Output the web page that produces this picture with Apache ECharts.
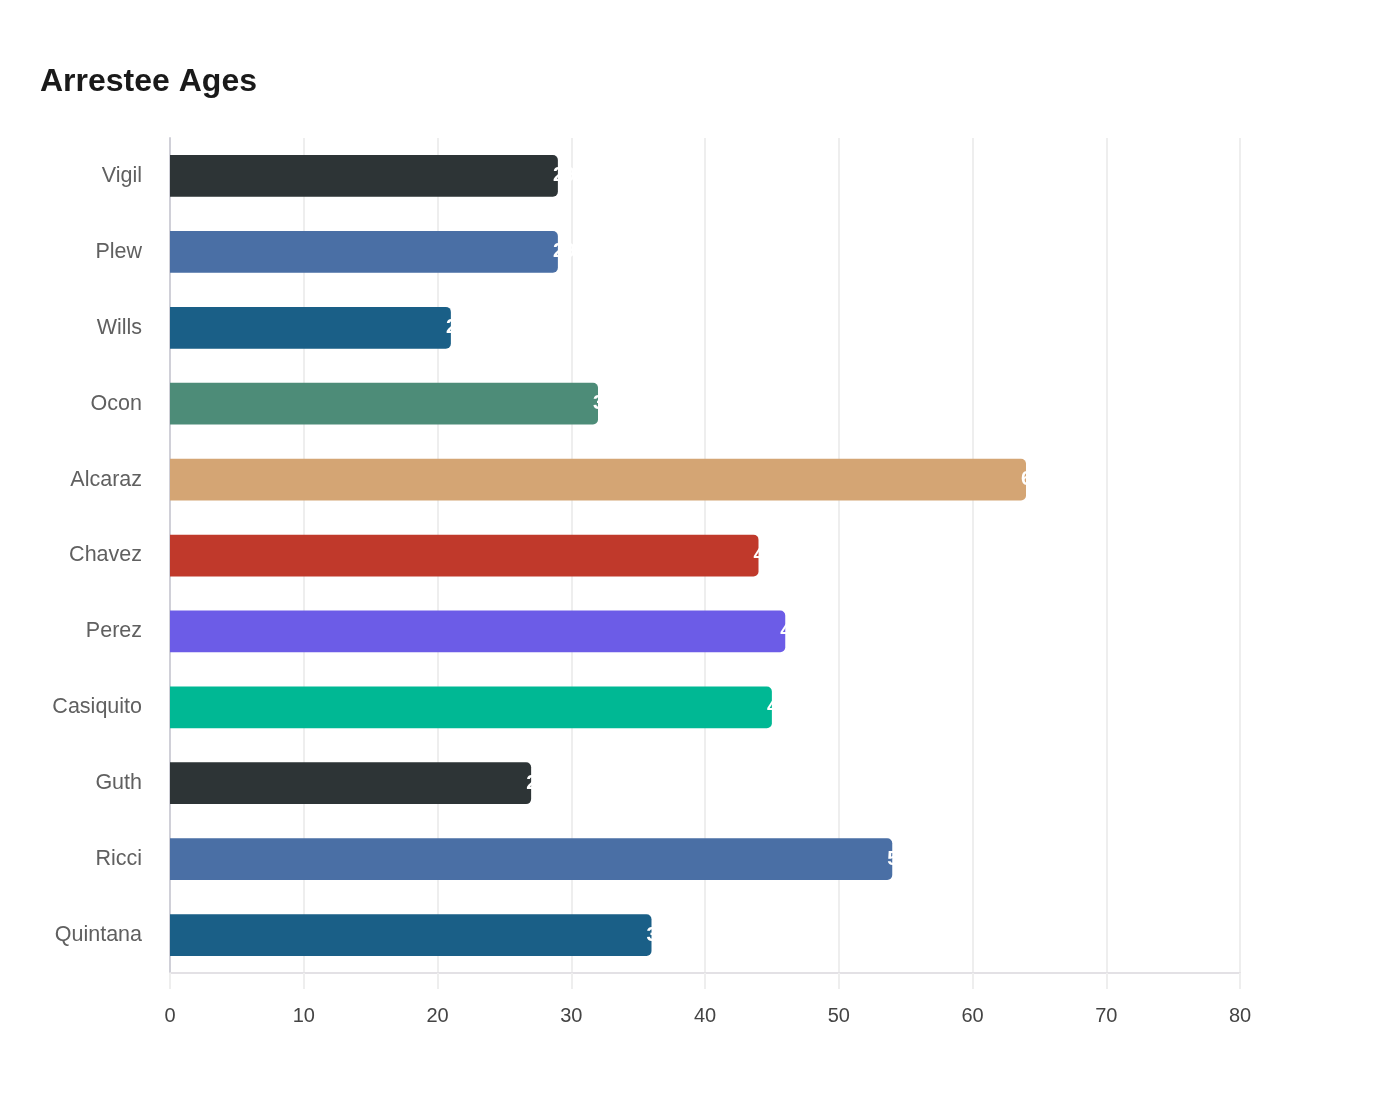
<!DOCTYPE html>
<html>
<head>
<meta charset="utf-8">
<title>Arrestee Ages</title>
<script src="https://cdn.jsdelivr.net/npm/echarts@6/dist/echarts.min.js"></script>
<style>
  html, body {margin:0;padding:0;background:#fff;}
  #chart {width:1400px;height:1100px;}
</style>
</head>
<body>
<div id="chart"></div>
<script>
  var names = ['Vigil', 'Plew', 'Wills', 'Ocon', 'Alcaraz', 'Chavez', 'Perez', 'Casiquito', 'Guth', 'Ricci', 'Quintana'];
  var ages = [29, 29, 21, 32, 64, 44, 46, 45, 27, 54, 36];
  var palette = ['#2d3436', '#4a6fa5', '#1a5f87', '#4d8c78', '#d4a574', '#c0392b', '#6c5ce7', '#00b894'];
  var xTicks = [0, 80, 10]; // min, max, step

  var font = "'Liberation Sans', Arial, sans-serif";
  var chart = echarts.init(document.getElementById('chart'));

  var data = ages.map(function (v, i) {
    return {value: v, itemStyle: {color: palette[i % palette.length]}};
  });

  chart.setOption({
    animation: false,
    backgroundColor: '#ffffff',
    textStyle: {fontFamily: font},
    title: {
      text: 'Arrestee Ages',
      left: 35,
      top: 61,
      textStyle: {fontFamily: font, fontSize: 32, fontWeight: 'bold', color: '#1a1a1a'}
    },
    grid: {left: 170, right: 160, top: 138, bottom: 127},
    xAxis: {
      type: 'value',
      min: xTicks[0],
      max: xTicks[1],
      interval: xTicks[2],
      axisLine: {show: true, lineStyle: {color: '#e3e1e5', width: 2}},
      axisTick: {show: true, length: 16, lineStyle: {color: '#eeeeee', width: 2}},
      splitLine: {show: true, lineStyle: {color: '#eeeeee', width: 2}},
      axisLabel: {color: '#444', fontSize: 20, fontFamily: font, margin: 33}
    },
    yAxis: {
      type: 'category',
      inverse: true,
      data: names,
      axisLine: {show: true, lineStyle: {color: '#d0d0d8', width: 2}},
      axisTick: {show: false},
      splitLine: {show: false},
      axisLabel: {color: '#606060', fontSize: 21.5, fontFamily: font, margin: 28}
    },
    series: [{
      type: 'bar',
      data: data,
      barWidth: '55%',
      itemStyle: {borderRadius: [0, 5, 5, 0]},
      label: {
        show: true,
        position: 'right',
        offset: [-10, 0],
        color: '#ffffff',
        fontWeight: 'bold',
        fontSize: 20,
        fontFamily: font
      }
    }]
  });
</script>
</body>
</html>
